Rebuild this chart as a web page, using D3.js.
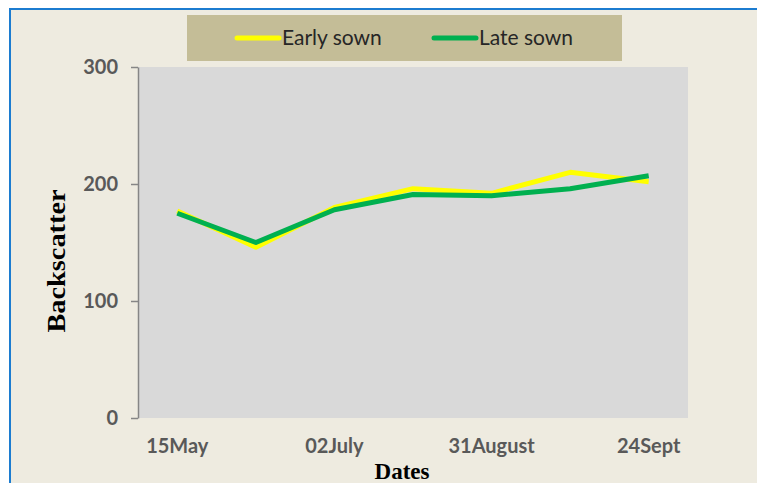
<!DOCTYPE html>
<html lang="en">
<head>
<meta charset="UTF-8">
<title>Backscatter</title>
<style>
  body { margin: 0; background: #fff; }
  svg { display: block; }
</style>
</head>
<body>
<div id="chart"></div>
<script src="https://cdn.jsdelivr.net/npm/d3@7/dist/d3.min.js"></script>
<script>
  // dates of the observations, only every other one is labelled
  var dates = ["15May", "", "02July", "", "31August", "", "24Sept"];
  var earlySown = [177, 146, 180, 196, 192, 210, 202];
  var lateSown = [175, 150, 178, 191, 190, 196, 207];
  var yTicks = [0, 100, 200, 300];

  var series = [
    { name: "Early sown", values: earlySown, color: "#FFFF00" },
    { name: "Late sown", values: lateSown, color: "#00B050" }
  ];

  var width = 757, height = 483;
  var plot = { left: 138, right: 688, top: 67, bottom: 418 };

  var svg = d3.select("#chart").append("svg")
      .attr("width", width)
      .attr("height", height);

  // frame
  svg.append("rect")
      .attr("x", 10).attr("y", 9)
      .attr("width", width - 10).attr("height", height - 9)
      .attr("fill", "#EEEBE0");
  svg.append("path")
      .attr("d", "M10," + height + "V9H" + width)
      .attr("fill", "none")
      .attr("stroke", "#1C7CD0")
      .attr("stroke-width", 2);

  var x = d3.scaleBand()
      .domain(d3.range(dates.length))
      .range([plot.left, plot.right]);

  var y = d3.scaleLinear()
      .domain([0, 300])
      .range([plot.bottom, plot.top]);

  svg.append("rect")
      .attr("x", plot.left).attr("y", plot.top)
      .attr("width", plot.right - plot.left)
      .attr("height", plot.bottom - plot.top)
      .attr("fill", "#D9D9D9");

  // y axis
  var yAxis = svg.append("g")
      .attr("transform", "translate(" + plot.left + ",0)")
      .call(d3.axisLeft(y).tickValues(yTicks).tickSize(7).tickPadding(13).tickSizeOuter(0));
  yAxis.select(".domain").attr("stroke", "#868686").attr("stroke-width", 1.5);
  yAxis.selectAll(".tick line").attr("stroke", "#868686").attr("stroke-width", 1.5);
  yAxis.selectAll("text")
      .attr("fill", "#595959")
      .style("font", "bold 20px Lato, 'Open Sans', sans-serif");

  // x axis (labels only)
  var xAxis = svg.append("g")
      .attr("transform", "translate(0," + plot.bottom + ")")
      .call(d3.axisBottom(x).tickFormat(function(i) { return dates[i]; }).tickSize(0).tickPadding(21));
  xAxis.select(".domain").remove();
  xAxis.selectAll("text")
      .attr("fill", "#595959")
      .style("font", "bold 20px Lato, 'Open Sans', sans-serif");

  // lines
  var line = d3.line()
      .x(function(d, i) { return x(i) + x.bandwidth() / 2; })
      .y(function(d) { return y(d); });

  svg.selectAll(".series")
      .data(series)
    .enter().append("path")
      .attr("class", "series")
      .attr("d", function(d) { return line(d.values); })
      .attr("fill", "none")
      .attr("stroke", function(d) { return d.color; })
      .attr("stroke-width", 5)
      .attr("stroke-linejoin", "round");

  // axis titles
  svg.append("text")
      .attr("x", 402).attr("y", 479)
      .attr("text-anchor", "middle")
      .style("font", "bold 23px 'Liberation Serif', 'Times New Roman', serif")
      .attr("fill", "#000")
      .text("Dates");

  svg.append("text")
      .attr("transform", "translate(65,261) rotate(-90)")
      .attr("text-anchor", "middle")
      .attr("textLength", 143)
      .attr("lengthAdjust", "spacingAndGlyphs")
      .style("font", "bold 25px 'Liberation Serif', 'Times New Roman', serif")
      .attr("fill", "#000")
      .text("Backscatter");

  // legend
  svg.append("rect")
      .attr("x", 187).attr("y", 15)
      .attr("width", 435).attr("height", 46)
      .attr("fill", "#C4BD97");

  var legendX = [237, 434];
  var leg = svg.selectAll(".legend")
      .data(series)
    .enter().append("g")
      .attr("class", "legend")
      .attr("transform", function(d, i) { return "translate(" + legendX[i] + ",38)"; });
  leg.append("line")
      .attr("x1", 0).attr("x2", 42)
      .attr("stroke", function(d) { return d.color; })
      .attr("stroke-width", 5)
      .attr("stroke-linecap", "round");
  leg.append("text")
      .attr("x", 45).attr("y", 7)
      .attr("fill", "#262626")
      .style("font", "21px Lato, 'Open Sans', sans-serif")
      .text(function(d) { return d.name; });
</script>
</body>
</html>
